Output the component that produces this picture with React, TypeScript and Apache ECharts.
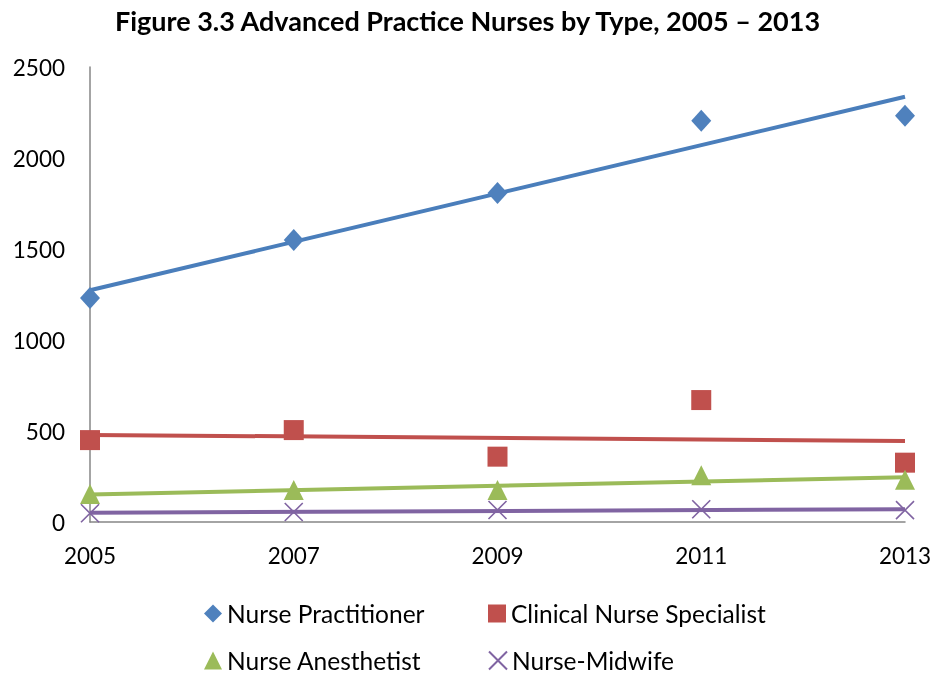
import React, { useEffect, useRef } from "react";
import * as echarts from "echarts";

const years = [2005, 2007, 2009, 2011, 2013];
const nursePractitioner = [1231, 1549, 1808, 2205, 2232];
const clinicalNurseSpecialist = [450, 505, 359, 670, 326];
const nurseAnesthetist = [154, 176, 176, 257, 232];
const nurseMidwife = [48, 55, 66, 70, 65];
const seriesNames = [
  "Nurse Practitioner",
  "Clinical Nurse Specialist",
  "Nurse Anesthetist",
  "Nurse-Midwife",
];
const yTicks = [0, 500, 1000, 1500, 2000, 2500];

const FONT = "Lato, 'Open Sans', sans-serif";

function trend(xs: number[], ys: number[]): number[][] {
  const n = xs.length;
  const mx = xs.reduce((a, b) => a + b, 0) / n;
  const my = ys.reduce((a, b) => a + b, 0) / n;
  let sxy = 0;
  let sxx = 0;
  for (let i = 0; i < n; i++) {
    sxy += (xs[i] - mx) * (ys[i] - my);
    sxx += (xs[i] - mx) * (xs[i] - mx);
  }
  const b = sxy / sxx;
  const a = my - b * mx;
  const x0 = xs[0];
  const x1 = xs[n - 1];
  return [
    [x0, a + b * x0],
    [x1, a + b * x1],
  ];
}

export default function App() {
  const ref = useRef<HTMLDivElement>(null);
  useEffect(() => {
    if (!ref.current) return;
    const chart = echarts.init(ref.current, undefined, { renderer: "svg" });
    const colors = ["#4F81BD", "#C0504D", "#9BBB59", "#8064A2"];
    const lineColors = ["#4A7EBB", "#C0504D", "#9BBB59", "#8064A2"];
    const datasets = [nursePractitioner, clinicalNurseSpecialist, nurseAnesthetist, nurseMidwife];
    const symbols = ["diamond", "rect", "triangle", "path://M0,0L10,10M10,0L0,10"];
    const symbolSizes: any[] = [[20, 22], 20, [20, 20], 18];

    const scatterSeries = datasets.map((d, i) => ({
      name: seriesNames[i],
      type: "scatter",
      data: d.map((v, j) => [years[j], v]),
      symbol: symbols[i],
      symbolSize: symbolSizes[i],
      itemStyle:
        i === 3
          ? { color: colors[i], borderColor: colors[i], borderWidth: 1.6, opacity: 1 }
          : { color: colors[i], opacity: 1 },
      z: 3,
    }));
    const trendSeries = datasets.map((d, i) => ({
      name: seriesNames[i] + " trend",
      type: "line",
      data: trend(years, d),
      symbol: "none",
      lineStyle: { color: lineColors[i], width: 4 },
      z: 2,
    }));

    const legendPos = [
      { left: 204, top: 601 },
      { left: 488, top: 601 },
      { left: 204, top: 648 },
      { left: 488, top: 648 },
    ];

    chart.setOption({
      animation: false,
      title: {
        text: "Figure 3.3 Advanced Practice Nurses by Type, 2005 \u2013 2013",
        left: "center",
        top: 2,
        textStyle: { fontFamily: FONT, fontSize: 27, fontWeight: "bold", color: "#000" },
      },
      grid: { left: 90, right: 30, top: 67, bottom: 154 },
      xAxis: {
        type: "value",
        min: years[0],
        max: years[years.length - 1],
        interval: 2,
        axisLine: { lineStyle: { color: "#868686", width: 1.5 } },
        axisTick: { show: false },
        splitLine: { show: false },
        axisLabel: {
          formatter: (v: number) => String(v),
          fontFamily: FONT,
          fontSize: 22.5,
          color: "#000",
          margin: 22,
        },
      },
      yAxis: {
        type: "value",
        min: yTicks[0],
        max: yTicks[yTicks.length - 1],
        interval: 500,
        axisLine: { show: true, lineStyle: { color: "#868686", width: 1.5 } },
        axisTick: { show: false },
        splitLine: { show: false },
        axisLabel: {
          formatter: (v: number) => String(v),
          fontFamily: FONT,
          fontSize: 22.5,
          color: "#000",
          margin: 25,
        },
      },
      legend: seriesNames.map((name, i) => ({
        data: [name],
        left: legendPos[i].left,
        top: legendPos[i].top,
        padding: 0,
        itemWidth: 18,
        itemHeight: 18,
        itemGap: 0,
        textStyle: { fontFamily: FONT, fontSize: 24.5, color: "#000" },
      })),
      series: [...trendSeries, ...scatterSeries],
    });
    return () => chart.dispose();
  }, []);
  return (
    <div
      ref={ref}
      style={{ position: "fixed", left: 0, top: 0, width: 935, height: 676 }}
    />
  );
}
